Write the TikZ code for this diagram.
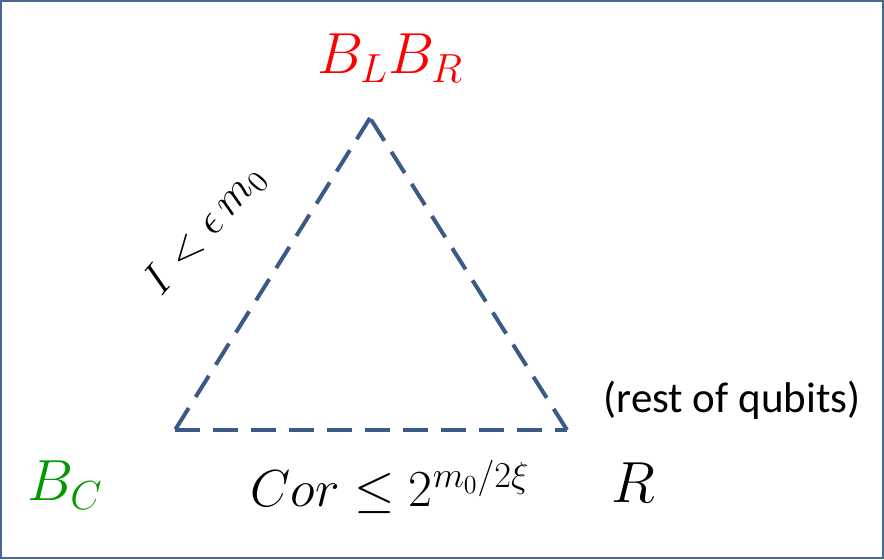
\RequirePackage{fix-cm}
\documentclass[tikz,border=0pt]{standalone}
\usepackage{fontspec}
\usepackage{amsmath,amssymb}
\usepackage{xcolor}
\usetikzlibrary{calc,positioning}
\newfontfamily\calibrifont{Carlito}
\definecolor{frameColor}{RGB}{72,104,148}
\definecolor{edgeColor}{RGB}{60,90,135}
\definecolor{topColor}{RGB}{255,0,0}
\definecolor{leftColor}{RGB}{0,153,0}
\newcommand{\mathbig}{\fontsize{29}{34}\selectfont}
\newcommand{\mathmid}{\fontsize{26}{30}\selectfont}
\newcommand{\mathtilt}{\fontsize{22}{26}\selectfont}
\newcommand{\notefont}{\calibrifont\fontsize{21.5}{25}\selectfont}

\begin{document}
\begin{tikzpicture}[x=0.5pt, y=-0.5pt,
        edge/.style={edgeColor, line width=2pt, dash pattern=on 12.5pt off 6.5pt},
        party/.style={inner sep=0pt, font=\mathbig},
        bound/.style={inner sep=0pt, font=\mathmid},
        note/.style={inner sep=0pt, font=\notefont}
      ]
      \draw[frameColor, line width=1pt] (1,1) rectangle (883,558);
      \useasboundingbox (0,0) rectangle (884,559);

      % corners of the triangle
      \coordinate (top) at (370,118);
      \coordinate (left) at (175,430);
      \coordinate (right) at (567,430);

      \draw[edge] (top) -- (left);
      \draw[edge] (left) -- (right);
      \draw[edge] (right) -- (top);

      \node[party, topColor] (blbr) at (390,58) {$B_L B_R$};
      \node[party, leftColor] (bc) at (65,485) {$B_C$};
      \node[party] (r) at (633,483) {$R$};
      \node[note] (rest) at (732,400) {(rest of qubits)};

      \node[bound, font=\mathtilt, rotate=49] (mutual) at (205,230) {$I<\epsilon\, m_0$};
      \node[bound] (cor) at (390,487) {$Cor \leq 2^{m_0/2\xi}$};
    \end{tikzpicture}
\end{document}
